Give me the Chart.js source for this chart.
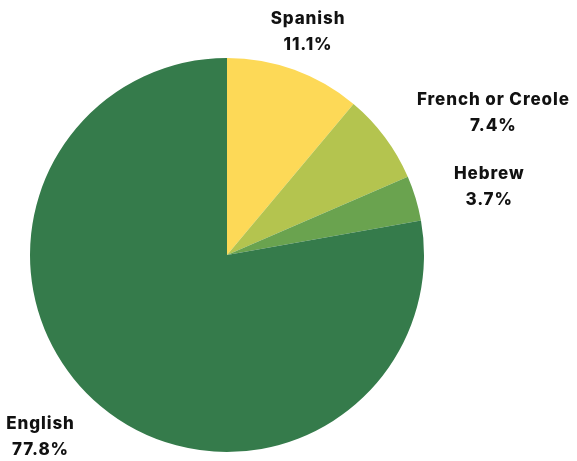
<!DOCTYPE html>
<html>
<head>
<meta charset="utf-8">
<script src="https://cdn.jsdelivr.net/npm/chart.js@4.4.1/dist/chart.umd.min.js"></script>
<style>
  html, body { margin: 0; padding: 0; background: #ffffff; }
  #wrap { width: 577px; height: 461px; }
</style>
</head>
<body>
<div id="wrap"><canvas id="c" width="577" height="461"></canvas></div>
<script>
// Languages and their shares (percent)
const languages = ['Spanish', 'French or Creole', 'Hebrew', 'English'];
const shares = [11.1, 7.4, 3.7, 77.8];
const sliceColors = ['#FDD957', '#B4C44F', '#6AA34F', '#357B4B'];

// Draws "name / value%" next to each slice, just outside the rim
const outsideLabels = {
  id: 'outsideLabels',
  afterDatasetsDraw(chart) {
    const { ctx } = chart;
    const meta = chart.getDatasetMeta(0);
    ctx.save();
    ctx.font = '800 17px Inter, "Liberation Sans", sans-serif';
    ctx.letterSpacing = '0.9px';
    ctx.fillStyle = '#111111';
    ctx.textBaseline = 'middle';
    const lineGap = 26;
    meta.data.forEach((arc, i) => {
      const { x, y, startAngle, endAngle, outerRadius } = arc.getProps(
        ['x', 'y', 'startAngle', 'endAngle', 'outerRadius'], true);
      const mid = (startAngle + endAngle) / 2;
      const d = outerRadius + 40;
      const px = x + Math.cos(mid) * d;
      const py = y + Math.sin(mid) * d;
      const lines = [languages[i], shares[i].toFixed(1) + '%'];
      const w = Math.max(...lines.map(t => ctx.measureText(t).width));
      const c = Math.cos(mid);
      let cx;
      if (Math.abs(c) < 0.5) cx = px;        // near the top or bottom: centre on the point
      else if (c > 0) cx = px + w / 2;       // right side: block starts at the point
      else cx = px - w / 2;                  // left side: block ends at the point
      ctx.textAlign = 'center';
      lines.forEach((t, k) => {
        ctx.fillText(t, cx, py + (k - (lines.length - 1) / 2) * lineGap);
      });
    });
    ctx.restore();
  }
};

new Chart(document.getElementById('c'), {
  type: 'pie',
  data: {
    labels: languages,
    datasets: [{
      data: shares,
      backgroundColor: sliceColors,
      borderWidth: 0
    }]
  },
  options: {
    responsive: false,
    animation: false,
    layout: { padding: { left: 30, right: 153, top: 58, bottom: 9 } },
    plugins: {
      legend: { display: false },
      tooltip: { enabled: false }
    }
  },
  plugins: [outsideLabels]
});
</script>
</body>
</html>
